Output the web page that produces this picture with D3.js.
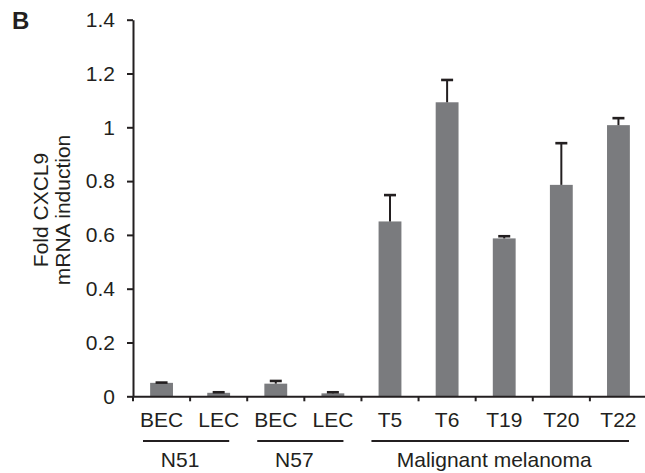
<!DOCTYPE html>
<html>
<head>
<meta charset="utf-8">
<script src="https://cdn.jsdelivr.net/npm/d3@7"></script>
<style>
  body { margin: 0; background: #fff; }
  text { font-family: "Liberation Sans", Arial, Helvetica, sans-serif; fill: #231f20; }
</style>
</head>
<body>
<svg width="645" height="473"></svg>
<script>
const svg = d3.select('svg');

// data
const samples = ['BEC', 'LEC', 'BEC', 'LEC', 'T5', 'T6', 'T19', 'T20', 'T22'];
const values = [0.050, 0.013, 0.047, 0.011, 0.650, 1.093, 0.587, 0.786, 1.008];
const errors = [0.001, 0.002, 0.010, 0.004, 0.098, 0.083, 0.008, 0.155, 0.026];
const groupNames = ['N51', 'N57', 'Malignant melanoma'];
const groupSpans = [[0, 1], [2, 3], [4, 8]];
const yTicks = [0, 0.2, 0.4, 0.6, 0.8, 1, 1.2, 1.4];

const ink = '#231f20';
const barColor = '#7a7b7e';
const fontSize = 21;

const x = d3.scaleBand()
  .domain(d3.range(samples.length))
  .range([133, 647])
  .paddingInner(0.6)
  .paddingOuter(0.3);

const y = d3.scaleLinear()
  .domain([0, 1.4])
  .range([396.3, 19.7]);

// bars
svg.selectAll('rect.bar')
  .data(values)
  .enter()
    .append('rect')
    .attr('class', 'bar')
    .attr('x', (d, i) => x(i))
    .attr('y', d => y(d))
    .attr('width', x.bandwidth())
    .attr('height', d => y(0) - y(d))
    .attr('fill', barColor);

// error bars (upper only)
const err = svg.selectAll('g.err')
  .data(values)
  .enter()
    .append('g')
    .attr('class', 'err')
    .attr('stroke', ink);

err.append('line')
  .attr('stroke-width', 2)
  .attr('x1', (d, i) => x(i) + x.bandwidth() / 2)
  .attr('x2', (d, i) => x(i) + x.bandwidth() / 2)
  .attr('y1', d => y(d))
  .attr('y2', (d, i) => y(d + errors[i]));

err.append('line')
  .attr('stroke-width', 2.6)
  .attr('x1', (d, i) => x(i) + x.bandwidth() / 2 - 6)
  .attr('x2', (d, i) => x(i) + x.bandwidth() / 2 + 6)
  .attr('y1', (d, i) => y(d + errors[i]))
  .attr('y2', (d, i) => y(d + errors[i]));

// y axis
const yAxis = svg.append('g')
  .attr('transform', `translate(${x.range()[0]},0)`)
  .call(d3.axisLeft(y).tickValues(yTicks).tickFormat(d3.format('~g')).tickSize(6).tickPadding(12).tickSizeOuter(0));
yAxis.select('.domain').attr('stroke', ink).attr('stroke-width', 2);
yAxis.selectAll('.tick line').attr('stroke', ink).attr('stroke-width', 2);
yAxis.selectAll('.tick text')
  .attr('font-size', fontSize)
  .attr('font-family', '"Liberation Sans", Arial, sans-serif')
  .attr('fill', ink);

// x axis: labels under bars, ticks at band boundaries
const xAxis = svg.append('g')
  .attr('transform', `translate(0,${y(0)})`)
  .call(d3.axisBottom(x).tickFormat(i => samples[i]).tickSize(0).tickPadding(16).tickSizeOuter(0));
xAxis.select('.domain').attr('stroke', ink).attr('stroke-width', 2);
xAxis.selectAll('.tick text')
  .attr('font-size', fontSize)
  .attr('font-family', '"Liberation Sans", Arial, sans-serif')
  .attr('fill', ink);

const gap = x.step() - x.bandwidth();
xAxis.selectAll('line.sep')
  .data(d3.range(samples.length))
  .enter()
    .append('line')
    .attr('class', 'sep')
    .attr('x1', i => x(i) - gap / 2)
    .attr('x2', i => x(i) - gap / 2)
    .attr('y1', 0)
    .attr('y2', 5)
    .attr('stroke', ink)
    .attr('stroke-width', 2);

// group underlines and names
const groups = svg.selectAll('g.group')
  .data(groupNames)
  .enter()
    .append('g')
    .attr('class', 'group');

const gx0 = (d, i) => x(groupSpans[i][0]) - gap / 2 + 10;
const gx1 = (d, i) => x(groupSpans[i][1]) + x.bandwidth() + gap / 2 - 18;

groups.append('line')
  .attr('x1', gx0)
  .attr('x2', gx1)
  .attr('y1', 441)
  .attr('y2', 441)
  .attr('stroke', ink)
  .attr('stroke-width', 2);

groups.append('text')
  .attr('x', (d, i) => (gx0(d, i) + gx1(d, i)) / 2 - 6)
  .attr('y', 467)
  .attr('text-anchor', 'middle')
  .attr('font-size', fontSize)
  .text(d => d);

// y label
const yl = svg.append('text')
  .attr('transform', 'translate(48,210) rotate(-90)')
  .attr('text-anchor', 'middle')
  .attr('font-size', fontSize);
yl.append('tspan').attr('x', 0).attr('dy', 0).text('Fold CXCL9');
yl.append('tspan').attr('x', 0).attr('dy', 22).text('mRNA induction');

// panel letter
svg.append('text')
  .attr('x', 12)
  .attr('y', 29)
  .attr('font-size', 24)
  .attr('font-weight', 'bold')
  .text('B');
</script>
</body>
</html>
